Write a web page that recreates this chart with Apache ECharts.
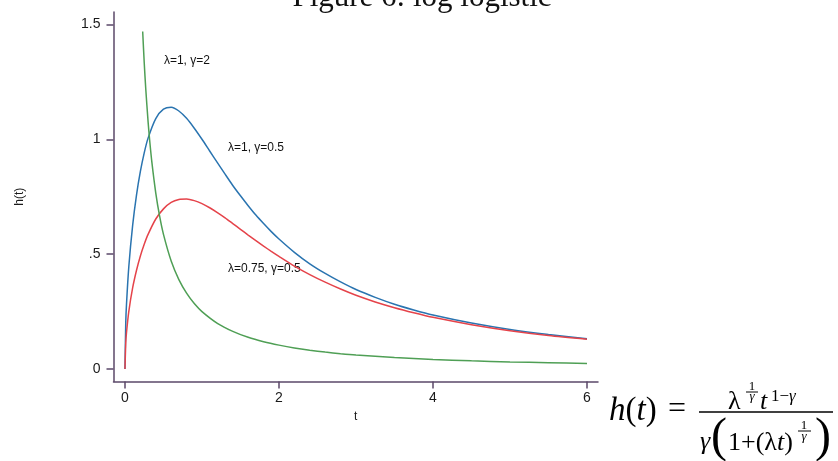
<!DOCTYPE html>
<html>
<head>
<meta charset="utf-8">
<script src="https://cdn.jsdelivr.net/npm/echarts@6/dist/echarts.min.js"></script>
<style>
  html, body { margin: 0; padding: 0; background: #fff; }
  #chart { width: 838px; height: 461px; }
</style>
</head>
<body>
<div id="chart"></div>
<script>
// Log-logistic hazard curves h(t) for three parameter sets
const tMain = [0, 0.01, 0.02, 0.05, 0.1, 0.15, 0.2, 0.25, 0.3, 0.4, 0.5, 0.6, 0.7, 0.8, 0.9, 1.0,
  1.1, 1.2, 1.3, 1.4, 1.5, 1.6, 1.7, 1.8, 1.9, 2.0, 2.2, 2.4, 2.6, 2.8, 3.0, 3.25, 3.5, 3.75, 4.0,
  4.5, 5.0, 5.5, 6.0];
const hLam1Gam05 = [0, 0.200, 0.283, 0.446, 0.626, 0.758, 0.860, 0.941, 1.005, 1.090, 1.131, 1.139,
  1.123, 1.091, 1.048, 1.000, 0.949, 0.898, 0.848, 0.799, 0.754, 0.711, 0.670, 0.633, 0.598, 0.566,
  0.508, 0.458, 0.416, 0.379, 0.346, 0.312, 0.282, 0.257, 0.235, 0.200, 0.172, 0.150, 0.132];
const hLam075Gam05 = [0, 0.112, 0.159, 0.251, 0.354, 0.430, 0.492, 0.543, 0.586, 0.653, 0.697, 0.725,
  0.738, 0.740, 0.733, 0.720, 0.702, 0.681, 0.658, 0.633, 0.608, 0.583, 0.559, 0.535, 0.512, 0.490,
  0.448, 0.411, 0.378, 0.348, 0.321, 0.292, 0.267, 0.245, 0.225, 0.193, 0.167, 0.146, 0.130];
const tGamma2 = [0.23, 0.25, 0.27, 0.3, 0.32, 0.35, 0.4, 0.45, 0.5, 0.6, 0.7, 0.8, 0.9, 1.0, 1.2, 1.4,
  1.6, 1.8, 2.0, 2.2, 2.4, 2.6, 2.8, 3.0, 3.5, 4.0, 4.5, 5.0, 5.5, 6.0];
const hLam1Gam2 = [1.469, 1.333, 1.219, 1.077, 0.998, 0.898, 0.766, 0.665, 0.586, 0.470, 0.389, 0.330,
  0.285, 0.250, 0.199, 0.164, 0.138, 0.119, 0.104, 0.0915, 0.0817, 0.0736, 0.0668, 0.0610, 0.0498,
  0.0417, 0.0356, 0.0309, 0.0272, 0.0242];

const xTicks = [0, 2, 4, 6];
const yTicks = [0, 0.5, 1, 1.5];
const yTickLabels = ['0', '.5', '1', '1.5'];

const curveLabels = [
  { text: 'λ=1, γ=2', t: 0.506, h: 1.341 },
  { text: 'λ=1, γ=0.5', t: 1.338, h: 0.962 },
  { text: 'λ=0.75, γ=0.5', t: 1.338, h: 0.435 }
];

const zip = (xs, ys) => xs.map((x, i) => [x, ys[i]]);

const axisColor = '#5b4869';
const sans = '"Liberation Sans", Arial, sans-serif';
const serif = '"Liberation Serif", "DejaVu Serif", serif';

const chart = echarts.init(document.getElementById('chart'), null, { renderer: 'canvas' });

const lineSeries = (name, data, color) => ({
  name, type: 'line', data, showSymbol: false, smooth: 0.25,
  lineStyle: { color, width: 1.5 }, itemStyle: { color }, silent: true, animation: false
});

chart.setOption({
  animation: false,
  grid: { left: 113.5, right: 240, top: 12, bottom: 79.5, containLabel: false },
  xAxis: {
    type: 'value', min: -0.149, max: 6.143,
    name: 't', nameLocation: 'middle', nameGap: 27,
    nameTextStyle: { color: '#1a1a1a', fontSize: 12, fontFamily: sans },
    axisLine: { show: true, onZero: false, lineStyle: { color: axisColor, width: 1.5 } },
    axisTick: { show: true, customValues: xTicks, length: 7, lineStyle: { color: axisColor, width: 1.5 } },
    axisLabel: { customValues: xTicks, margin: 10, color: '#1a1a1a', fontSize: 14, fontFamily: sans },
    splitLine: { show: false }
  },
  yAxis: {
    type: 'value', min: -0.0544, max: 1.554,
    name: 'h(t)', nameLocation: 'middle', nameGap: 88, nameRotate: 90,
    nameTextStyle: { color: '#1a1a1a', fontSize: 12, fontFamily: sans },
    axisLine: { show: true, onZero: false, lineStyle: { color: axisColor, width: 1.5 } },
    axisTick: { show: true, customValues: yTicks, length: 7, lineStyle: { color: axisColor, width: 1.5 } },
    axisLabel: {
      customValues: yTicks, margin: 13, color: '#1a1a1a', fontSize: 14, fontFamily: sans,
      formatter: v => yTickLabels[yTicks.indexOf(v)] ?? String(v)
    },
    splitLine: { show: false }
  },
  series: [
    lineSeries('λ=1, γ=0.5', zip(tMain, hLam1Gam05), '#2a74b0'),
    lineSeries('λ=0.75, γ=0.5', zip(tMain, hLam075Gam05), '#e5434a'),
    lineSeries('λ=1, γ=2', zip(tGamma2, hLam1Gam2), '#4f9f55')
  ]
});

// Curve annotations anchored in data coordinates
const annot = curveLabels.map(l => {
  const p = chart.convertToPixel({ gridIndex: 0 }, [l.t, l.h]);
  return {
    type: 'text', x: p[0], y: p[1],
    style: { text: l.text, fill: '#111', fontSize: 12, fontFamily: sans,
      align: 'left', verticalAlign: 'middle' }
  };
});

const txt = (text, x, y, size, extra) => ({
  type: 'text', x, y,
  style: Object.assign({ text, fill: '#000', fontSize: size, fontFamily: serif,
    align: 'left', verticalAlign: 'bottom' }, extra || {})
});
const italic = size => ({ i: { fontStyle: 'italic', fontSize: size, fontFamily: serif } });

// Title (running off the top edge) and the hazard formula
const formula = [
  txt('Figure 6: log logistic', 422, 13, 31, { fill: '#111', align: 'center' }),
  txt('{i|h}({i|t})', 609, 428, 33, { rich: italic(33) }),
  txt('=', 668, 426, 32),
  { type: 'line', shape: { x1: 699, y1: 412, x2: 833, y2: 412 }, style: { stroke: '#000', lineWidth: 1.3 } },
  // numerator: λ^(1/γ) t^(1−γ)
  txt('λ', 728, 415, 26),
  txt('1', 752, 393, 13, { align: 'center' }),
  { type: 'line', shape: { x1: 746, y1: 392, x2: 758, y2: 392 }, style: { stroke: '#000', lineWidth: 1 } },
  txt('γ', 752, 390.5, 13, { align: 'center', verticalAlign: 'top', fontStyle: 'italic' }),
  txt('t', 760, 415, 26, { fontStyle: 'italic' }),
  txt('1−{i|γ}', 771, 405, 17, { rich: italic(17) }),
  // denominator: γ(1+(λt)^(1/γ))
  txt('γ', 700, 455, 26, { fontStyle: 'italic' }),
  txt('(', 711, 462, 48),
  txt('1+(λ{i|t})', 728, 456, 26, { rich: italic(26) }),
  txt('1', 804, 432, 13, { align: 'center' }),
  { type: 'line', shape: { x1: 798, y1: 431, x2: 811, y2: 431 }, style: { stroke: '#000', lineWidth: 1 } },
  txt('γ', 804, 430, 13, { align: 'center', verticalAlign: 'top', fontStyle: 'italic' }),
  txt(')', 815, 462, 48)
];

chart.setOption({ graphic: { elements: annot.concat(formula) } });
</script>
</body>
</html>
